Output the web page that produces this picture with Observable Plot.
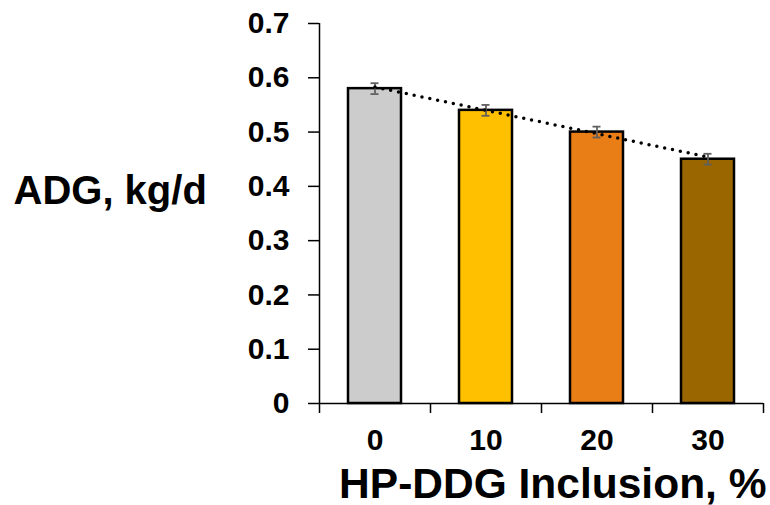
<!DOCTYPE html>
<html>
<head>
<meta charset="utf-8">
<script src="https://cdn.jsdelivr.net/npm/d3@7"></script>
<script src="https://cdn.jsdelivr.net/npm/@observablehq/plot@0.6"></script>
<style>
  html, body { margin: 0; padding: 0; background: #fff; }
  svg { display: block; }
</style>
</head>
<body>
<div id="chart"></div>
<script>
const categories = ["0", "10", "20", "30"];
const adg = [0.58, 0.54, 0.50, 0.45];
const se = [0.01, 0.01, 0.01, 0.01];
const barColors = ["#CCCCCC", "#FFC000", "#EA7E16", "#996600"];
const yTicks = [0, 0.1, 0.2, 0.3, 0.4, 0.5, 0.6, 0.7];
const trendCategories = ["0", "30"];
const trendValues = [0.583, 0.454];
const yLabel = "ADG, kg/d";
const xLabel = "HP-DDG Inclusion, %";

const data = categories.map((c, i) => ({cat: c, v: adg[i], e: se[i], color: barColors[i]}));
const trend = trendCategories.map((c, i) => ({cat: c, v: trendValues[i]}));

const W = 770, H = 505;
const mL = 319, mR = 7, mT = 23, mB = 102;
const step = (W - mL - mR) / categories.length;
const barInset = (step - 53) / 2;
const capInset = (step - 8) / 2;
const font = "'Liberation Sans', Arial, sans-serif";

const chart = Plot.plot({
  width: W,
  height: H,
  marginLeft: mL,
  marginRight: mR,
  marginTop: mT,
  marginBottom: mB,
  style: {fontFamily: font, fontWeight: "bold", color: "#000", background: "#fff"},
  x: {type: "band", domain: categories, padding: 0},
  y: {domain: [0, 0.7]},
  color: {type: "identity"},
  marks: [
    Plot.barY(data, {x: "cat", y: "v", fill: "color", stroke: "#000", strokeWidth: 2.5, insetLeft: barInset, insetRight: barInset}),
    Plot.ruleX(data, {x: "cat", y1: d => d.v - d.e, y2: d => d.v + d.e, stroke: "#606060", strokeWidth: 1.8}),
    Plot.tickY(data, {x: "cat", y: d => d.v - d.e, stroke: "#606060", strokeWidth: 1.8, insetLeft: capInset, insetRight: capInset}),
    Plot.tickY(data, {x: "cat", y: d => d.v + d.e, stroke: "#606060", strokeWidth: 1.8, insetLeft: capInset, insetRight: capInset}),
    Plot.line(trend, {x: "cat", y: "v", stroke: "#000", strokeWidth: 3.5, strokeDasharray: "0 8", strokeLinecap: "round"}),
    Plot.ruleY([0], {stroke: "#000", strokeWidth: 1.5}),
    Plot.ruleX([categories[0]], {stroke: "#000", strokeWidth: 1.5, dx: -step / 2}),
    Plot.axisY({ticks: yTicks, tickSize: 11, tickPadding: 19, tickFormat: d => d === 0 ? "0" : d.toFixed(1), fontSize: 30, fontWeight: "bold", label: null, strokeWidth: 1.5}),
    Plot.axisX({ticks: categories, tickSize: 0, tickPadding: 25, fontSize: 30, fontWeight: "bold", label: null}),
    Plot.axisX({ticks: categories, tickSize: 10, tickFormat: () => "", dx: -step / 2, label: null, strokeWidth: 1.5}),
    Plot.axisX({ticks: [categories[categories.length - 1]], tickSize: 10, tickFormat: () => "", dx: step / 2, label: null, strokeWidth: 1.5}),
    Plot.text([yLabel], {frameAnchor: "left", textAnchor: "start", dx: -306, dy: -22, fontSize: 40, fontWeight: "bold", fill: "#000"}),
    Plot.text([xLabel], {frameAnchor: "bottom-right", textAnchor: "end", lineAnchor: "bottom", dx: 3, dy: 94, fontSize: 42.5, fontWeight: "bold", fill: "#000"})
  ]
});
document.getElementById("chart").appendChild(chart);
</script>
</body>
</html>
